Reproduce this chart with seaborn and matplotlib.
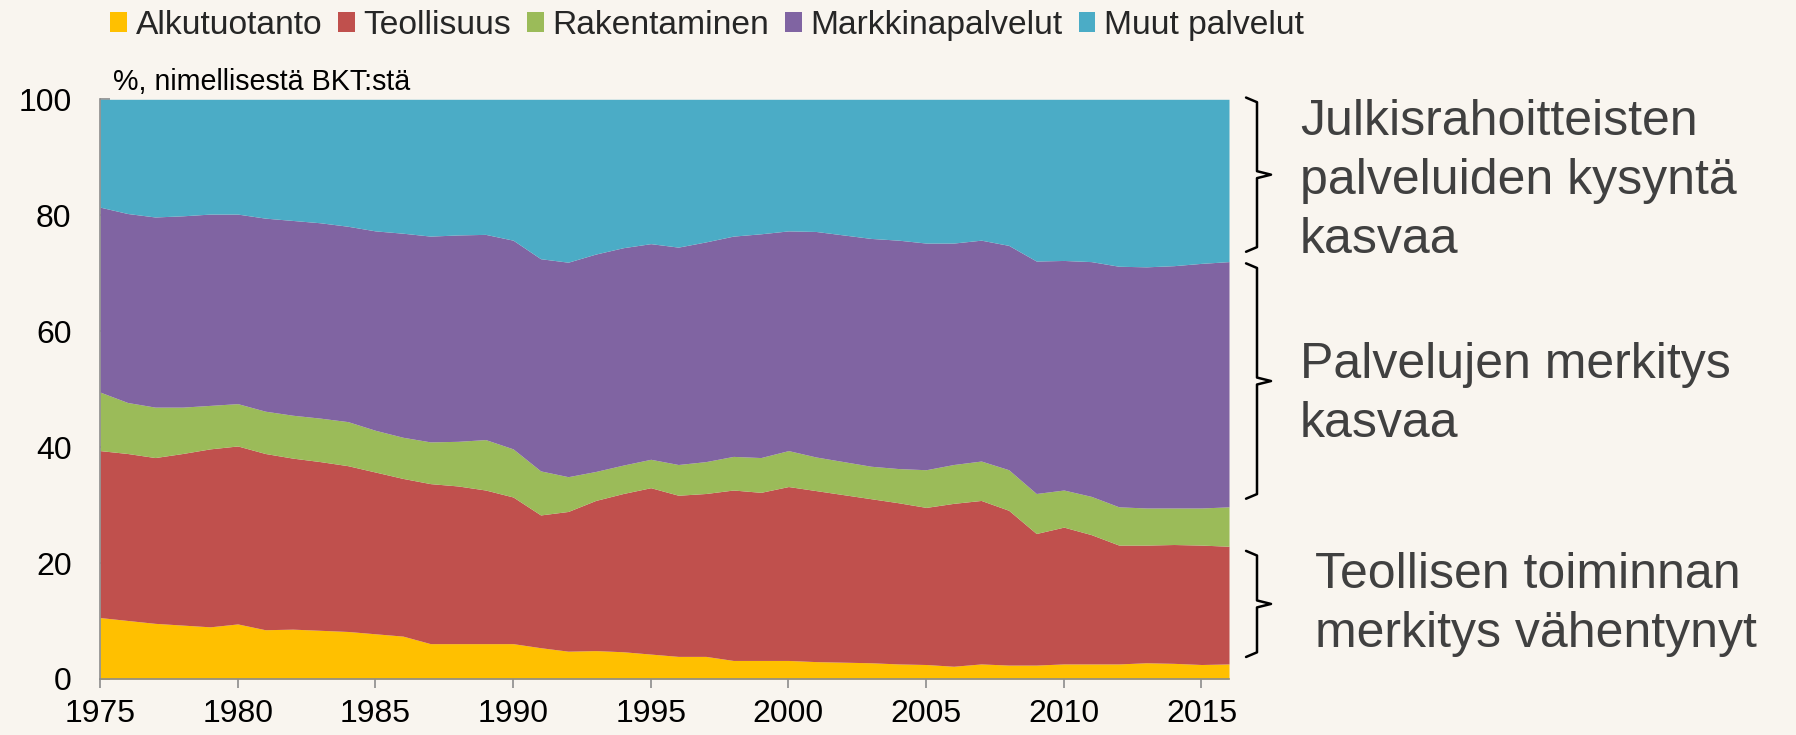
import numpy as np
import pandas as pd
import seaborn as sns
import matplotlib.pyplot as plt
from matplotlib.patches import Patch

# data, % of nominal GDP
years = list(range(1975, 2017))
alkutuotanto = [10.6, 10.1, 9.6, 9.3, 9.0, 9.5, 8.5, 8.6, 8.4, 8.2, 7.8, 7.4, 6.1, 6.1, 6.1, 6.1,
                5.4, 4.8, 4.9, 4.7, 4.3, 3.9, 3.9, 3.2, 3.2, 3.2, 3.0, 2.9, 2.8, 2.6, 2.5, 2.2,
                2.6, 2.4, 2.4, 2.6, 2.6, 2.6, 2.8, 2.7, 2.5, 2.6]
teollisuus = [28.8, 28.8, 28.6, 29.6, 30.7, 30.7, 30.4, 29.5, 29.1, 28.6, 27.9, 27.2, 27.6, 27.2,
              26.5, 25.3, 22.9, 24.1, 25.9, 27.3, 28.7, 27.8, 28.1, 29.4, 29.0, 30.0, 29.5, 28.9,
              28.3, 27.8, 27.1, 28.1, 28.2, 26.7, 22.7, 23.6, 22.3, 20.5, 20.3, 20.5, 20.6, 20.3]
rakentaminen = [10.1, 8.8, 8.7, 8.0, 7.5, 7.3, 7.3, 7.4, 7.5, 7.6, 7.2, 7.1, 7.2, 7.7, 8.7, 8.3,
                7.6, 6.0, 5.0, 4.9, 4.9, 5.3, 5.5, 5.8, 6.0, 6.2, 5.8, 5.7, 5.6, 5.9, 6.5, 6.7,
                6.8, 7.0, 6.9, 6.4, 6.6, 6.6, 6.4, 6.3, 6.4, 6.8]
markkinapalvelut = [31.9, 32.6, 32.8, 33.0, 33.0, 32.7, 33.3, 33.6, 33.7, 33.7, 34.4, 35.2, 35.5,
                    35.6, 35.4, 36.0, 36.6, 37.0, 37.5, 37.5, 37.2, 37.5, 37.9, 38.0, 38.6, 37.9,
                    38.9, 39.1, 39.3, 39.4, 39.1, 38.2, 38.1, 38.7, 40.1, 39.6, 40.5, 41.5, 41.6,
                    41.8, 42.2, 42.3]
muut_palvelut = [18.6, 19.7, 20.3, 20.1, 19.8, 19.8, 20.5, 20.9, 21.3, 21.9, 22.7, 23.1, 23.6,
                 23.4, 23.3, 24.3, 27.5, 28.1, 26.7, 25.6, 24.9, 25.5, 24.6, 23.6, 23.2, 22.7,
                 22.8, 23.4, 24.0, 24.3, 24.8, 24.8, 24.3, 25.2, 27.9, 27.8, 28.0, 28.8, 28.9,
                 28.7, 28.3, 28.0]

labels = ['Alkutuotanto', 'Teollisuus', 'Rakentaminen', 'Markkinapalvelut', 'Muut palvelut']
colors = ['#FFC000', '#C0504D', '#9BBB59', '#8064A2', '#4BACC6']

# (text, bracket bottom, bracket top, text centre) in y data units
notes = [
    ('Julkisrahoitteisten\npalveluiden kysyntä\nkasvaa', 73.7, 100.3, 85.9),
    ('Palvelujen merkitys\nkasvaa', 31.1, 71.7, 49.0),
    ('Teollisen toiminnan\nmerkitys vähentynyt', 3.8, 22.1, 12.9),
]

df = pd.DataFrame({'year': years, labels[0]: alkutuotanto, labels[1]: teollisuus,
                   labels[2]: rakentaminen, labels[3]: markkinapalvelut, labels[4]: muut_palvelut})

bg = '#F9F5EF'
sns.set_theme(style='ticks')
plt.rcParams['font.family'] = ['Liberation Sans', 'DejaVu Sans']
plt.rcParams['figure.facecolor'] = bg
plt.rcParams['axes.facecolor'] = bg

W, H = 1796, 735
fig = plt.figure(figsize=(W / 100, H / 100), dpi=100)
ax = fig.add_axes([100 / W, 1 - 679 / H, 1129 / W, 579.7 / H])

ax.stackplot(df['year'], *[df[c] for c in labels], colors=colors, linewidth=0, labels=labels)

ax.set_xlim(1975, 2016)
ax.set_ylim(0, 100)
ax.set_xticks(range(1975, 2016, 5))
ax.set_yticks(range(0, 101, 20))
ax.tick_params(axis='x', direction='out', length=6.5, width=1.2, color='#8c8c8c',
               labelsize=23, pad=8, labelcolor='black')
ax.tick_params(axis='y', direction='in', length=7, width=1.2, color='#8c8c8c',
               labelsize=23, pad=20.5, labelcolor='black')
for s in ['top', 'right']:
    ax.spines[s].set_visible(False)
for s in ['left', 'bottom']:
    ax.spines[s].set_color('#8c8c8c')
    ax.spines[s].set_linewidth(1.2)
    ax.spines[s].set_zorder(5)

# legend on top
handles = [Patch(facecolor=c, edgecolor='none') for c in colors]
fig.legend(handles, labels, loc='center left', bbox_to_anchor=(110 / W, 1 - 25.5 / H),
           ncol=5, frameon=False, fontsize=24.2, handlelength=0.5, handleheight=0.5,
           handletextpad=0.26, columnspacing=0.47, borderpad=0, borderaxespad=0)

fig.text(113 / W, 1 - 90 / H, '%, nimellisestä BKT:stä', fontsize=20.6, va='baseline', color='black')

# braces and notes on the right
trans = ax.get_yaxis_transform()
x0, x1, x2 = 1.0151, 1.0248, 1.0372
text_x = [1300, 1300, 1315]
for (txt, lo, hi, ty), tx in zip(notes, text_x):
    mid = (lo + hi) / 2
    bx = [x0, x1, x1, x2, x1, x1, x0]
    by = [hi, hi - 0.8, mid + 0.6, mid, mid - 0.6, lo + 0.8, lo]
    ax.plot(bx, by, transform=trans, color='black', lw=1.8, clip_on=False,
            solid_joinstyle='round')
    fig.text(tx / W, ax.transData.transform((0, ty))[1] / H, txt, fontsize=36,
             color='#404040', va='center', ha='left', linespacing=1.36)

fig.savefig('out.png', dpi=100, facecolor=bg)
